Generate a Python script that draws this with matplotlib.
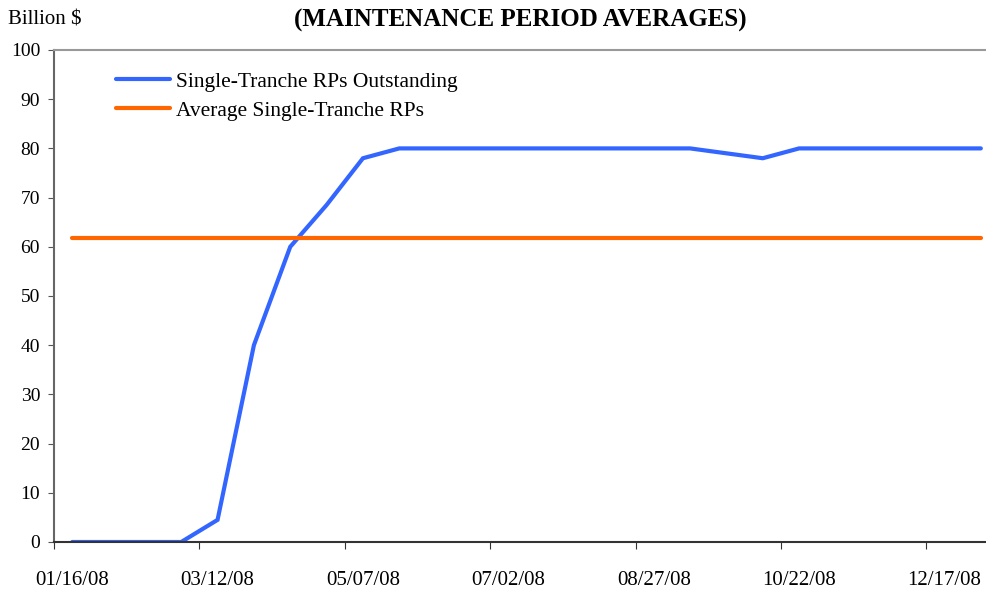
import matplotlib
matplotlib.use("Agg")
import matplotlib.pyplot as plt

# maintenance period start dates (two-week periods)
dates = ["01/16/08", "01/30/08", "02/13/08", "02/27/08", "03/12/08", "03/26/08",
         "04/09/08", "04/23/08", "05/07/08", "05/21/08", "06/04/08", "06/18/08",
         "07/02/08", "07/16/08", "07/30/08", "08/13/08", "08/27/08", "09/10/08",
         "09/24/08", "10/08/08", "10/22/08", "11/05/08", "11/19/08", "12/03/08",
         "12/17/08", "12/31/08"]
outstanding = [0, 0, 0, 0, 4.5, 40, 60, 68.5, 78, 80, 80, 80, 80, 80, 80, 80,
               80, 80, 79, 78, 80, 80, 80, 80, 80, 80]
average = [61.8] * len(dates)

plt.rcParams['font.family'] = ['Liberation Serif', 'DejaVu Serif']

fig = plt.figure(figsize=(9.87, 5.9), dpi=100)
ax = fig.add_axes([54 / 987, 1 - 542 / 590, 945 / 987, 492 / 590])

x = list(range(len(dates)))
ax.plot(x, outstanding, color='#3366FF', lw=3, label='Single-Tranche RPs Outstanding',
        solid_capstyle='round', solid_joinstyle='miter')
ax.plot(x, average, color='#FF6600', lw=3, label='Average Single-Tranche RPs',
        solid_capstyle='round')

ax.set_xlim(-0.5, len(dates) - 0.5)
ax.set_ylim(0, 100)
ax.set_yticks(range(0, 101, 10))

# tick marks at category boundaries, labels at category centres
ax.set_xticks([i - 0.5 for i in range(0, len(dates), 4)])
ax.set_xticklabels([])
ax.set_xticks(list(range(0, len(dates), 4)), minor=True)
ax.set_xticklabels(dates[::4], minor=True)
ax.tick_params(axis='x', which='major', direction='out', length=5, color='#333333')
ax.tick_params(axis='x', which='minor', length=0, pad=21, labelsize=15)
ax.tick_params(axis='y', direction='out', length=4, color='#555555', labelsize=14, pad=6)

ax.spines['right'].set_visible(False)
ax.spines['top'].set_color('#999999')
ax.spines['left'].set_color('#666666')
ax.spines['bottom'].set_color('#333333')
for s in ax.spines.values():
    s.set_linewidth(1.5)

leg = ax.legend(loc='upper left', bbox_to_anchor=(0.045, 0.995), frameon=False,
                fontsize=15.5, handlelength=2.5, handletextpad=0.3, labelspacing=0.4)

fig.text(8 / 987, 1 - 20 / 590, 'Billion $', fontsize=15, va='center', ha='left')
fig.text(520 / 987, 1 - 20 / 590, '(MAINTENANCE PERIOD AVERAGES)', fontsize=18,
         fontweight='bold', va='center', ha='center')

fig.savefig('out.png', dpi=100)
